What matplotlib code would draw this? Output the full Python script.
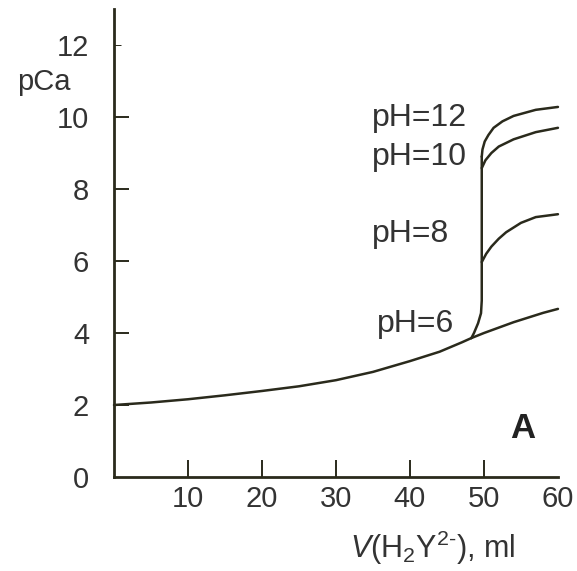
import matplotlib
matplotlib.use("Agg")
import matplotlib.pyplot as plt

plt.rcParams['font.family'] = ['Liberation Sans', 'DejaVu Sans']
plt.rcParams['mathtext.fontset'] = 'custom'
plt.rcParams['mathtext.rm'] = 'Liberation Sans'
plt.rcParams['mathtext.it'] = 'Liberation Sans:italic'
plt.rcParams['mathtext.bf'] = 'Liberation Sans:bold'

# ---- data ----
v_base = [0, 5, 10, 15, 20, 25, 30, 35, 40, 44, 47, 48.3]
pca_base = [2.0, 2.07, 2.16, 2.27, 2.39, 2.52, 2.69, 2.92, 3.22, 3.48, 3.74, 3.86]

v_ph6 = [48.3, 50, 52, 54, 56, 58, 60]
pca_ph6 = [3.86, 4.0, 4.15, 4.3, 4.43, 4.56, 4.67]

v_jump = [48.3, 48.65, 49.2, 49.6, 49.7, 49.7]
pca_jump = [3.86, 4.0, 4.27, 4.55, 4.9, 8.9]

v_ph8 = [49.7, 50.3, 51, 52, 53, 55, 57, 60]
pca_ph8 = [5.97, 6.2, 6.4, 6.62, 6.8, 7.06, 7.22, 7.3]

v_ph10 = [49.7, 50.2, 51, 52, 54, 57, 60]
pca_ph10 = [8.58, 8.8, 9.0, 9.18, 9.38, 9.58, 9.7]

v_ph12 = [49.7, 49.8, 50.1, 50.6, 51.3, 52.5, 54, 57, 60]
pca_ph12 = [8.9, 9.1, 9.32, 9.5, 9.7, 9.88, 10.03, 10.2, 10.28]

labels = ["pH=12", "pH=10", "pH=8", "pH=6"]
label_x = [34.9, 34.9, 34.9, 35.5]
label_y = [9.75, 8.67, 6.53, 4.03]

x_ticks = [10, 20, 30, 40, 50, 60]
y_ticks = [0, 2, 4, 6, 8, 10, 12]

line_col = '#2a2a1c'
text_col = '#333333'

fig = plt.figure(figsize=(5.77, 5.71), dpi=100)
ax = fig.add_axes([0.1976, 0.1646, 0.7694, 0.8196])

lw = 1.8
for xs, ys in [(v_base, pca_base), (v_ph6, pca_ph6), (v_jump, pca_jump),
               (v_ph8, pca_ph8), (v_ph10, pca_ph10), (v_ph12, pca_ph12)]:
    ax.plot(xs, ys, color=line_col, lw=lw, solid_capstyle='round',
            solid_joinstyle='round', clip_on=False)

fs = 21
for lab, lx, ly in zip(labels, label_x, label_y):
    ax.text(lx, ly, lab, fontsize=23, color=text_col, ha='left', va='baseline')

ax.text(53.5, 1.08, "A", fontsize=25, fontweight='bold', color='#222222',
        ha='left', va='baseline')

ax.set_xlim(0, 60)
ax.set_ylim(0, 13)
for s in ['top', 'right']:
    ax.spines[s].set_visible(False)
for s in ['left', 'bottom']:
    ax.spines[s].set_color(line_col)
    ax.spines[s].set_linewidth(2.0)

ax.set_xticks(x_ticks)
ax.set_xticklabels([str(t) for t in x_ticks])
ax.set_yticks(y_ticks)
ax.set_yticklabels([str(t) for t in y_ticks])
ax.tick_params(axis='x', direction='in', length=12, width=1.4, pad=6,
               labelsize=fs, colors=line_col, labelcolor=text_col)
ax.tick_params(axis='y', direction='in', length=11, width=1.4, pad=18,
               labelsize=fs, colors=line_col, labelcolor=text_col)

xt = ax.xaxis.get_major_ticks()
xt[-1].tick1line.set_visible(False)
yt = ax.yaxis.get_major_ticks()
yt[0].tick1line.set_visible(False)
yt[-1].tick1line.set_markersize(5)
yt[-1].tick1line.set_markeredgewidth(0.7)

fig.text(17 / 577, 1 - 90 / 571, "pCa", fontsize=fs, color=text_col,
         ha='left', va='baseline')
fig.text(350 / 577, 1 - 558 / 571, r"$V$(H$_2$Y$^{2\text{-}}$), ml",
         fontsize=22, color=text_col, ha='left', va='baseline')

fig.savefig("out.png", dpi=100)
